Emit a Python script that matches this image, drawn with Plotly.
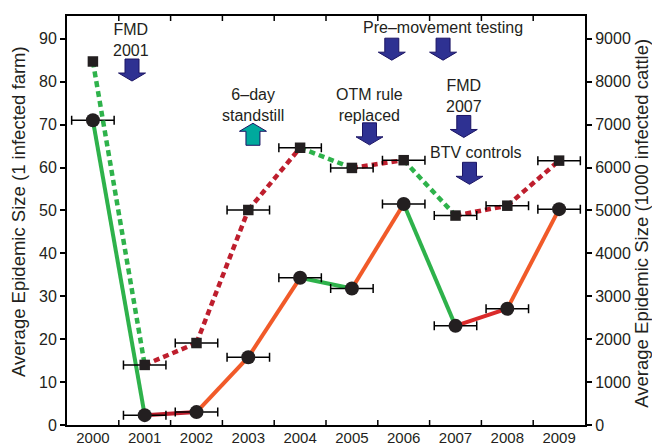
import plotly.graph_objects as go

# ---------------- data ----------------
years = [2000, 2001, 2002, 2003, 2004, 2005, 2006, 2007, 2008, 2009]
year_labels = [str(y) for y in years]
# average epidemic size, 1 infected farm (left axis)
farm_size = [71.0, 2.3, 3.0, 15.8, 34.3, 31.8, 51.5, 23.1, 27.1, 50.3]
farm_err = [0.41] * 10
# average epidemic size, 1000 infected cattle (right axis)
cattle_size = [8470, 1400, 1910, 5010, 6460, 5990, 6170, 4880, 5110, 6160]
cattle_err = [0.0, 0.41, 0.41, 0.41, 0.41, 0.41, 0.41, 0.41, 0.41, 0.41]

GREEN = "#2EB24B"
ORANGE = "#F15A29"
DARKRED = "#BE1E2D"
RED = "#DA2A2A"
farm_seg_colors = [GREEN, DARKRED, ORANGE, ORANGE, GREEN, ORANGE, GREEN, RED, ORANGE]
cattle_seg_colors = [GREEN, DARKRED, DARKRED, DARKRED, GREEN, DARKRED, GREEN, DARKRED, DARKRED]

FONT = "Liberation Sans, Arial, Helvetica, sans-serif"
TXT = "#231F20"

Y_RANGE = [0, 95.3]
x_range = [years[0] - 0.5, years[-1] + 0.5]
PLOT_H = 446 - 16 - 21

fig = go.Figure()

# dashed cattle segments (right axis)
for i in range(len(years) - 1):
    fig.add_trace(go.Scatter(
        x=years[i:i + 2], y=cattle_size[i:i + 2], mode="lines", yaxis="y2",
        line=dict(color=cattle_seg_colors[i], width=4.5, dash="6px,4px"),
        showlegend=False, hoverinfo="skip"))

# solid farm segments (left axis)
for i in range(len(years) - 1):
    fig.add_trace(go.Scatter(
        x=years[i:i + 2], y=farm_size[i:i + 2], mode="lines",
        line=dict(color=farm_seg_colors[i], width=4),
        showlegend=False, hoverinfo="skip"))

# markers with horizontal error bars
fig.add_trace(go.Scatter(
    x=years, y=cattle_size, mode="markers", yaxis="y2",
    marker=dict(symbol="square", size=10.5, color=TXT),
    error_x=dict(type="data", array=cattle_err, color="black", thickness=1.5, width=4.5),
    showlegend=False))
fig.add_trace(go.Scatter(
    x=years, y=farm_size, mode="markers",
    marker=dict(symbol="circle", size=14, color=TXT),
    error_x=dict(type="data", array=farm_err, color="black", thickness=1.5, width=4.5),
    showlegend=False))

# x-axis tick marks on the year boundaries (inside, bottom and top)
tick_len = 5 * (Y_RANGE[1] - Y_RANGE[0]) / PLOT_H
tx, ty = [], []
for b in [y + 0.5 for y in years[:-1]]:
    tx += [b, b, None, b, b, None]
    ty += [Y_RANGE[0], Y_RANGE[0] + tick_len, None, Y_RANGE[1] - tick_len, Y_RANGE[1], None]
fig.add_trace(go.Scatter(x=tx, y=ty, mode="lines", line=dict(color="black", width=1.5),
                         showlegend=False, hoverinfo="skip", cliponaxis=False))

# ---------------- block arrows ----------------
def block_arrow(x, y_tip, up=False, color="#2E3192"):
    s = -1 if up else 1
    pts = [(0, 0), (-13.5, 8), (-7, 8), (-7, 22), (7, 22), (7, 8), (13.5, 8)]
    path = "M " + " L ".join(f"{px},{s * py}" for px, py in pts) + " Z"
    fig.add_shape(type="path", xref="x", yref="paper", xsizemode="pixel", ysizemode="pixel",
                  xanchor=x, yanchor=y_tip, path=path,
                  fillcolor=color, line=dict(color="#1B1464", width=1))

block_arrow(2000.755, 0.841)                 # FMD 2001
block_arrow(2003.09, 0.7377, up=True, color="#00A99D")  # 6-day standstill
block_arrow(2005.77, 0.892)                  # pre-movement testing 1
block_arrow(2006.76, 0.892)                  # pre-movement testing 2
block_arrow(2005.34, 0.685)                  # OTM rule replaced
block_arrow(2007.16, 0.703)                  # FMD 2007
block_arrow(2007.27, 0.5885)                 # BTV controls

def label(x, y, text):
    fig.add_annotation(x=x, y=y, xref="x", yref="paper", text=text, showarrow=False,
                       font=dict(family=FONT, size=16, color=TXT), align="center",
                       xanchor="center", yanchor="middle")

label(2000.74, 0.941, "FMD<br>2001")
label(2003.09, 0.782, "6–day<br>standstill")
label(2006.75, 0.972, "Pre–movement testing")
label(2005.34, 0.7836, "OTM rule<br>replaced")
label(2007.17, 0.804, "FMD<br>2007")
label(2007.39, 0.6667, "BTV controls")

# axis titles
fig.add_annotation(x=-0.0946, y=0.523, xref="paper", yref="paper", textangle=-90,
                   text="Average Epidemic Size (1 infected farm)", showarrow=False,
                   font=dict(family=FONT, size=18.5, color=TXT), xanchor="center", yanchor="middle")
fig.add_annotation(x=1.1095, y=0.494, xref="paper", yref="paper", textangle=-90,
                   text="Average Epidemic Size (1000 infected cattle)", showarrow=False,
                   font=dict(family=FONT, size=18.5, color=TXT), xanchor="center", yanchor="middle")

fig.update_layout(
    width=652, height=446,
    margin=dict(l=67, r=67, t=16, b=21, autoexpand=False),
    paper_bgcolor="white", plot_bgcolor="white",
    font=dict(family=FONT, size=16, color=TXT),
    xaxis=dict(range=x_range, tickvals=years, ticktext=year_labels,
               ticklabelstandoff=-2, ticks="", automargin=False,
               showgrid=False, zeroline=False, showline=True, linecolor="black", linewidth=2,
               mirror=True, tickfont=dict(size=15)),
    yaxis=dict(range=Y_RANGE, tick0=0, dtick=10, ticks="outside", ticklen=5, tickwidth=1.5,
               tickcolor="black", showgrid=False, zeroline=False, showline=True, automargin=False,
               linecolor="black", linewidth=2),
    yaxis2=dict(range=[0, 9530], tick0=0, dtick=1000, ticks="outside", ticklen=5, tickwidth=1.5,
                tickcolor="black", overlaying="y", side="right", showgrid=False, zeroline=False,
                automargin=False, showline=True, linecolor="black", linewidth=2),
)

fig.write_html("out.html")
